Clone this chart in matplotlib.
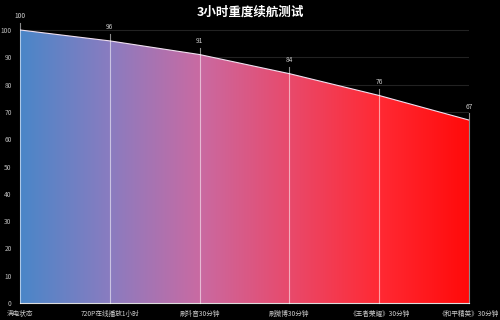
import numpy as np
import matplotlib.pyplot as plt
from matplotlib.colors import LinearSegmentedColormap
from matplotlib.patches import Polygon

plt.rcParams['font.family'] = ['Noto Sans CJK SC', 'DejaVu Sans']

stages = ['满电状态', '720P在线播放1小时', '刷抖音30分钟', '刷微博30分钟', '《王者荣耀》30分钟', '《和平精英》30分钟']
battery = [100, 96, 91, 84, 76, 67]
title = '3小时重度续航测试'

fig = plt.figure(figsize=(5, 3.2), dpi=100, facecolor='black')
ax = fig.add_axes([0.04, 0.053, 0.898, 0.896])
ax.set_facecolor('black')

x = np.arange(len(stages))
ax.set_xlim(x[0], x[-1])
ax.set_ylim(0, 105)

# gridlines
ax.set_yticks(np.arange(0, 101, 10))
ax.grid(axis='y', color='#222222', lw=0.8)
ax.set_axisbelow(True)

# gradient fill clipped to area under the curve
cmap = LinearSegmentedColormap.from_list('batt', ['#4a86c8', '#8a7cc0', '#c96aa2', '#e84a6c', '#ff2a34', '#ff0a0a'])
grad = np.linspace(0, 1, 256).reshape(1, -1)
img = ax.imshow(grad, cmap=cmap, aspect='auto', extent=[x[0], x[-1], 0, 100], zorder=2)
verts = [(x[0], 0)] + list(zip(x, battery)) + [(x[-1], 0)]
poly = Polygon(verts, closed=True, facecolor='none', edgecolor='none')
ax.add_patch(poly)
img.set_clip_path(poly)
ax.plot(x, battery, color='#f0e0f0', lw=0.8, zorder=3)

# vertical markers and value labels
for xi, v in zip(x, battery):
    ax.plot([xi, xi], [0, v + 2.5], color='white', alpha=0.55, lw=0.8, zorder=4, clip_on=False)
    ax.text(xi, v + 3.5, str(v), color='#cccccc', fontsize=4.8, ha='center', va='bottom', zorder=5)

ax.set_xticks(x)
ax.set_xticklabels(stages, fontsize=4.8, color='#cccccc')
ax.tick_params(axis='x', length=0, pad=5)
ax.tick_params(axis='y', length=0, labelsize=4.8, labelcolor='#bbbbbb', pad=6)

for s in ['top', 'right', 'left']:
    ax.spines[s].set_visible(False)
ax.spines['bottom'].set_color('#dddddd')
ax.spines['bottom'].set_linewidth(0.8)

fig.text(0.5, 0.962, title, color='white', fontsize=9, fontweight='bold', ha='center', va='center')

fig.savefig('out.png', dpi=100, facecolor='black')
